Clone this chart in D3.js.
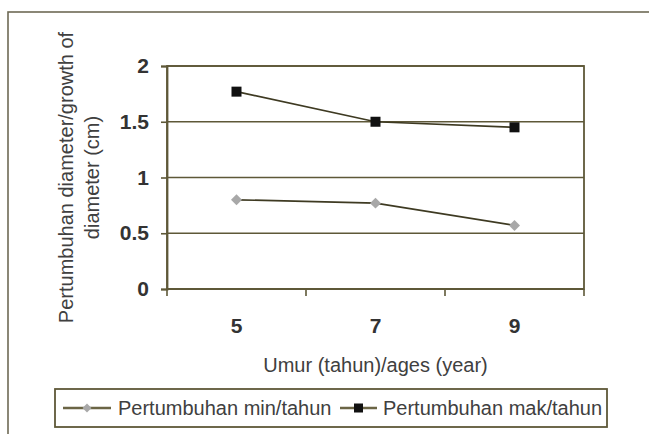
<!DOCTYPE html>
<html>
<head>
<meta charset="utf-8">
<script src="https://cdn.jsdelivr.net/npm/d3@7"></script>
<style>
  html, body { margin: 0; padding: 0; background: #fff; }
  svg { display: block; font-family: "Liberation Sans", Arial, sans-serif; }
</style>
</head>
<body>
<svg id="chart" width="649" height="434"></svg>
<script>
// Diameter growth per year by stand age
const ages = ["5", "7", "9"];
const minGrowth = [0.80, 0.77, 0.57];
const maxGrowth = [1.77, 1.50, 1.45];
const yTicks = [0, 0.5, 1, 1.5, 2];
const seriesNames = ["Pertumbuhan min/tahun", "Pertumbuhan mak/tahun"];

const olive = "#5e5838";
const textCol = "#333";

const svg = d3.select("#chart");
const margin = { left: 167, right: 65, top: 66, bottom: 145 };
const W = 649, H = 434;
const pw = W - margin.left - margin.right;
const ph = H - margin.top - margin.bottom;

// outer chart frame
svg.append("rect")
  .attr("x", 8).attr("y", 12)
  .attr("width", 660).attr("height", 440)
  .attr("fill", "#fff").attr("stroke", "#6e6a55").attr("stroke-width", 1.6);

const g = svg.append("g").attr("transform", `translate(${margin.left},${margin.top})`);

const x = d3.scaleBand().domain(ages).range([0, pw]).padding(0);
const y = d3.scaleLinear().domain([0, 2]).range([ph, 0]);

// horizontal gridlines
g.selectAll("line.grid").data(yTicks).join("line")
  .attr("class", "grid")
  .attr("x1", 0).attr("x2", pw)
  .attr("y1", d => y(d)).attr("y2", d => y(d))
  .attr("stroke", olive).attr("stroke-width", 1.6);

// plot area border (top / right)
g.append("rect")
  .attr("x", 0).attr("y", 0).attr("width", pw).attr("height", ph)
  .attr("fill", "none").attr("stroke", olive).attr("stroke-width", 1.8);

// y axis
const yAxis = g.append("g")
  .call(d3.axisLeft(y).tickValues(yTicks).tickSize(6).tickPadding(12).tickFormat(d3.format("")));
yAxis.select(".domain").attr("stroke", olive).attr("stroke-width", 1.8);
yAxis.selectAll(".tick line").attr("stroke", olive).attr("stroke-width", 1.6);
yAxis.selectAll(".tick text")
  .attr("fill", textCol).attr("font-size", 21).attr("font-weight", "bold");

// x axis: ticks on band edges, labels on band centres
const xAxis = g.append("g").attr("transform", `translate(0,${ph})`)
  .call(d3.axisBottom(x).tickSize(0).tickPadding(29));
xAxis.select(".domain").remove();
xAxis.selectAll(".tick text")
  .attr("fill", textCol).attr("font-size", 21).attr("font-weight", "bold");
const edges = ages.map(a => x(a)).concat([pw]);
g.selectAll("line.xtick").data(edges).join("line")
  .attr("class", "xtick")
  .attr("x1", d => d).attr("x2", d => d)
  .attr("y1", ph).attr("y2", ph + 7)
  .attr("stroke", olive).attr("stroke-width", 1.6);
g.append("line")
  .attr("x1", 0).attr("x2", pw).attr("y1", ph).attr("y2", ph)
  .attr("stroke", olive).attr("stroke-width", 1.8);

// axis titles
svg.append("text")
  .attr("x", margin.left + pw / 2 - 0).attr("y", 372)
  .attr("text-anchor", "middle").attr("font-size", 20).attr("fill", "#404040")
  .text("Umur (tahun)/ages (year)");

const yt = svg.append("text")
  .attr("transform", `translate(73,${margin.top + ph / 2}) rotate(-90)`)
  .attr("text-anchor", "middle").attr("font-size", 20).attr("fill", "#404040");
yt.append("tspan").attr("x", 0).attr("dy", 0).text("Pertumbuhan diameter/growth of");
yt.append("tspan").attr("x", 0).attr("dy", 26).text("diameter (cm)");

// series lines
const cx = a => x(a) + x.bandwidth() / 2;
const line = d3.line().x(d => cx(d.age)).y(d => y(d.v));
const minData = ages.map((a, i) => ({ age: a, v: minGrowth[i] }));
const maxData = ages.map((a, i) => ({ age: a, v: maxGrowth[i] }));

g.append("path").datum(minData).attr("d", line)
  .attr("fill", "none").attr("stroke", "#3e3a22").attr("stroke-width", 1.7);
g.append("path").datum(maxData).attr("d", line)
  .attr("fill", "none").attr("stroke", "#3e3a22").attr("stroke-width", 1.7);

g.selectAll("path.dmin").data(minData).join("path")
  .attr("class", "dmin")
  .attr("transform", d => `translate(${cx(d.age)},${y(d.v)}) rotate(45)`)
  .attr("d", d3.symbol().type(d3.symbolSquare).size(60))
  .attr("fill", "#a8a8a8");
g.selectAll("rect.smax").data(maxData).join("rect")
  .attr("class", "smax")
  .attr("x", d => cx(d.age) - 5).attr("y", d => y(d.v) - 5)
  .attr("width", 10).attr("height", 10)
  .attr("fill", "#111");

// legend
const leg = svg.append("g");
leg.append("rect")
  .attr("x", 55).attr("y", 389).attr("width", 552).attr("height", 38)
  .attr("fill", "#fff").attr("stroke", olive).attr("stroke-width", 1.8);
const legItems = [
  { name: seriesNames[0], x0: 63, x1: 111, text: 118, kind: "diamond" },
  { name: seriesNames[1], x0: 340, x1: 377, text: 383, kind: "square" }
];
const ly = 408;
legItems.forEach(it => {
  leg.append("line")
    .attr("x1", it.x0).attr("x2", it.x1).attr("y1", ly).attr("y2", ly)
    .attr("stroke", "#6b6545").attr("stroke-width", 2.5);
  const mx = (it.x0 + it.x1) / 2;
  if (it.kind === "diamond") {
    leg.append("path")
      .attr("transform", `translate(${mx},${ly}) rotate(45)`)
      .attr("d", d3.symbol().type(d3.symbolSquare).size(40))
      .attr("fill", "#a8a8a8");
  } else {
    leg.append("rect").attr("x", mx - 4.5).attr("y", ly - 4.5)
      .attr("width", 9).attr("height", 9).attr("fill", "#111");
  }
  leg.append("text")
    .attr("x", it.text).attr("y", ly + 7)
    .attr("font-size", 20).attr("fill", "#404040")
    .text(it.name);
});
</script>
</body>
</html>
